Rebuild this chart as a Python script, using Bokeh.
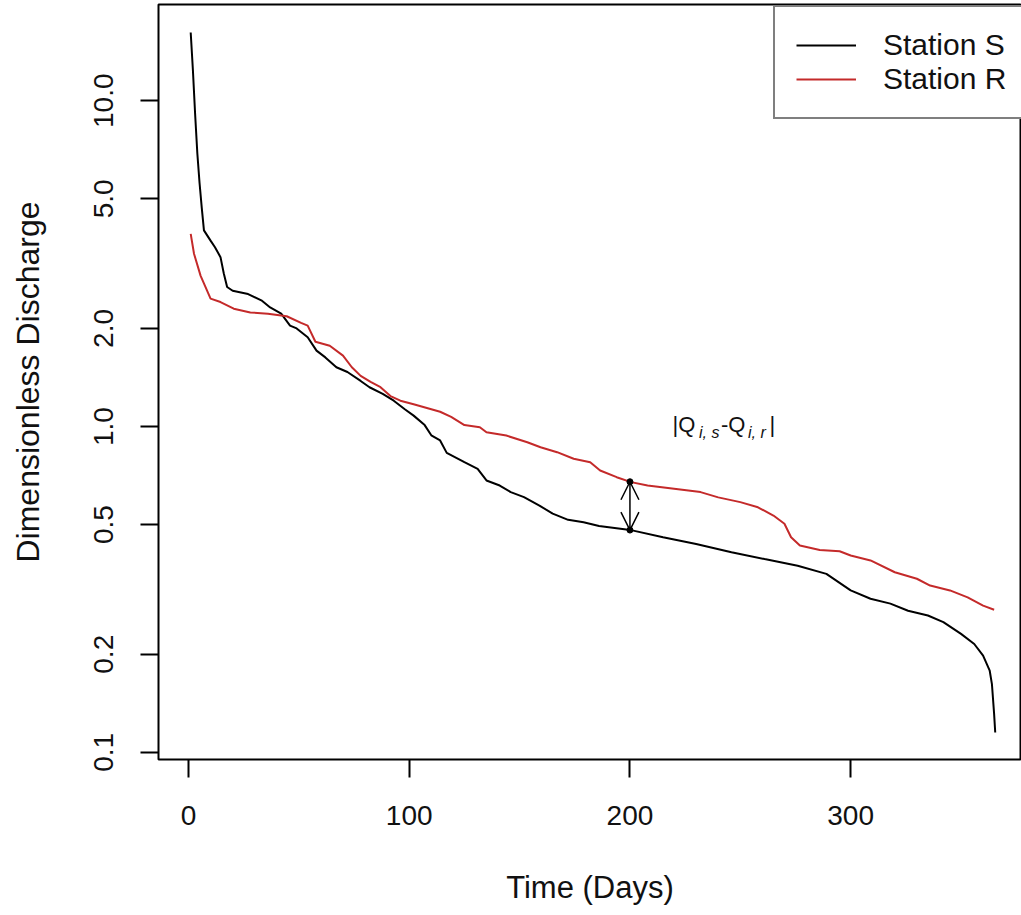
import numpy as np
from bokeh.plotting import figure
from bokeh.models import (FixedTicker, CustomJSTickFormatter, Legend, LegendItem,
                          Arrow, OpenHead, Range1d)
from bokeh.core.properties import value
from bokeh.embed import file_html
from bokeh.resources import INLINE

# ---------------- data ----------------
station_s_days = [1, 2, 3, 4, 5, 6, 7, 10, 12, 14.5, 16, 17.5, 20, 27, 33, 37, 42, 46,
                  49, 54, 58, 62, 67, 72, 78, 82, 88, 93, 98, 102, 107, 110, 114, 117,
                  125, 131, 135, 141, 146, 152, 159, 165, 172, 179, 186, 201, 215, 230,
                  246, 261, 276, 289, 300, 309, 318, 326, 335, 342, 350, 356, 360, 363,
                  364, 365, 365.5]
station_s_q = [16.2, 12.4, 9.1, 6.9, 5.6, 4.7, 4.0, 3.72, 3.55, 3.31, 2.95, 2.68, 2.61,
               2.55, 2.44, 2.32, 2.22, 2.04, 2.00, 1.88, 1.71, 1.63, 1.52, 1.47, 1.38,
               1.32, 1.26, 1.20, 1.13, 1.08, 1.01, 0.94, 0.906, 0.83, 0.777, 0.741,
               0.683, 0.659, 0.629, 0.607, 0.572, 0.540, 0.517, 0.508, 0.495, 0.480,
               0.457, 0.436, 0.411, 0.392, 0.374, 0.353, 0.314, 0.296, 0.286, 0.272,
               0.263, 0.251, 0.231, 0.215, 0.198, 0.178, 0.162, 0.131, 0.115]

station_r_days = [1, 2.5, 5.5, 10, 14.5, 20.5, 28, 36, 44.5, 51, 54, 57.5, 64, 70, 74,
                  78, 82.5, 87, 91.5, 96, 102, 110, 114, 119, 125, 132, 135, 144, 153.5,
                  159.5, 167, 174.5, 182, 186.5, 194, 200.5, 208, 220, 232, 240, 250, 258,
                  265, 270, 273, 277, 286, 295, 300, 309, 320, 330, 336, 345, 353, 360, 365]
station_r_q = [3.9, 3.39, 2.9, 2.47, 2.41, 2.30, 2.24, 2.22, 2.18, 2.08, 2.04, 1.82, 1.77,
               1.65, 1.52, 1.43, 1.37, 1.32, 1.24, 1.20, 1.17, 1.13, 1.11, 1.07, 1.01,
               0.995, 0.96, 0.938, 0.895, 0.864, 0.834, 0.796, 0.777, 0.733, 0.699, 0.675,
               0.659, 0.644, 0.629, 0.606, 0.586, 0.565, 0.533, 0.503, 0.457, 0.431, 0.418,
               0.414, 0.402, 0.388, 0.357, 0.341, 0.325, 0.314, 0.299, 0.282, 0.274]

series_labels = ["Station S", "Station R"]
x_ticks = [0, 100, 200, 300]
y_ticks = [0.1, 0.2, 0.5, 1.0, 2.0, 5.0, 10.0]
arrow_day = 200

# ---------------- styling ----------------
FONT = "Liberation Sans"
RED = "#c42a2a"
TXT = "#111111"

p = figure(width=1021, height=915, y_axis_type="log",
           x_range=Range1d(-13.59, 377.4), y_range=Range1d(0.09504, 19.74),
           output_backend="svg", toolbar_location=None,
           min_border_left=158, min_border_right=0, min_border_top=4,
           min_border_bottom=156)
p.grid.visible = False
p.outline_line_color = "black"
p.outline_line_width = 2
p.background_fill_color = "white"
p.border_fill_color = "white"

p.xaxis.ticker = FixedTicker(ticks=x_ticks)
p.yaxis.ticker = FixedTicker(ticks=y_ticks)
p.yaxis.formatter = CustomJSTickFormatter(code="return tick.toFixed(1);")
p.yaxis.major_label_orientation = "vertical"

for ax in (p.xaxis[0], p.yaxis[0]):
    ax.axis_line_color = None
    ax.major_tick_line_color = "black"
    ax.major_tick_line_width = 2
    ax.major_tick_in = 0
    ax.major_tick_out = 18
    ax.minor_tick_line_color = None
    ax.major_label_text_font = FONT
    ax.major_label_text_font_size = "28px"
    ax.major_label_text_color = TXT
    ax.axis_label_text_font = FONT
    ax.axis_label_text_font_style = "normal"
    ax.axis_label_text_color = TXT

p.xaxis.axis_label = "Time (Days)"
p.xaxis.axis_label_text_font_size = "31px"
p.xaxis.major_label_standoff = 28
p.xaxis.axis_label_standoff = 42
p.yaxis.axis_label = "Dimensionless Discharge"
p.yaxis.axis_label_text_font_size = "32px"
p.yaxis.major_label_standoff = 27
p.yaxis.axis_label_standoff = 46

rs = p.line(station_s_days, station_s_q, line_color="black", line_width=2)
rr = p.line(station_r_days, station_r_q, line_color=RED, line_width=2)

legend = Legend(items=[LegendItem(label=series_labels[0], renderers=[rs]),
                       LegendItem(label=series_labels[1], renderers=[rr])],
                location=(615, 640), padding=21, spacing=0, margin=0,
                glyph_width=60, glyph_height=32, label_height=32, label_standoff=27,
                label_text_font=FONT, label_text_font_size="30px",
                label_text_color=TXT,
                border_line_color="black", border_line_width=2,
                background_fill_color="white", background_fill_alpha=1.0)
p.add_layout(legend)

# double-headed arrow between the two curves at arrow_day
q_s = float(np.interp(arrow_day, station_s_days, station_s_q))
q_r = float(np.interp(arrow_day, station_r_days, station_r_q))
p.add_layout(Arrow(start=OpenHead(size=18, line_width=1.5),
                   end=OpenHead(size=18, line_width=1.5),
                   x_start=arrow_day, y_start=q_s, x_end=arrow_day, y_end=q_r,
                   line_width=1.5, line_color="black"))
p.scatter([arrow_day, arrow_day], [q_s, q_r], size=6, color="black")

# annotation |Q_{i,s}-Q_{i,r}|
ann_day, ann_q = 219.3, 1.0
pieces = [("|Q", 0, -2, "normal", "22px"),
          ("i, s", 26.5, 6, "italic", "16px"),
          ("-Q", 48.5, -2, "normal", "22px"),
          ("i, r", 75.5, 6, "italic", "16px"),
          ("|", 97, -2, "normal", "22px")]
for t, dx, dy, style, size in pieces:
    p.text(x=[ann_day], y=[ann_q], text=[t], x_offset=dx, y_offset=dy,
           text_font=value(FONT), text_font_size=size, text_font_style=style,
           text_baseline="middle", text_align="left", text_color=TXT)

open("out.html", "w").write(file_html(p, INLINE))
